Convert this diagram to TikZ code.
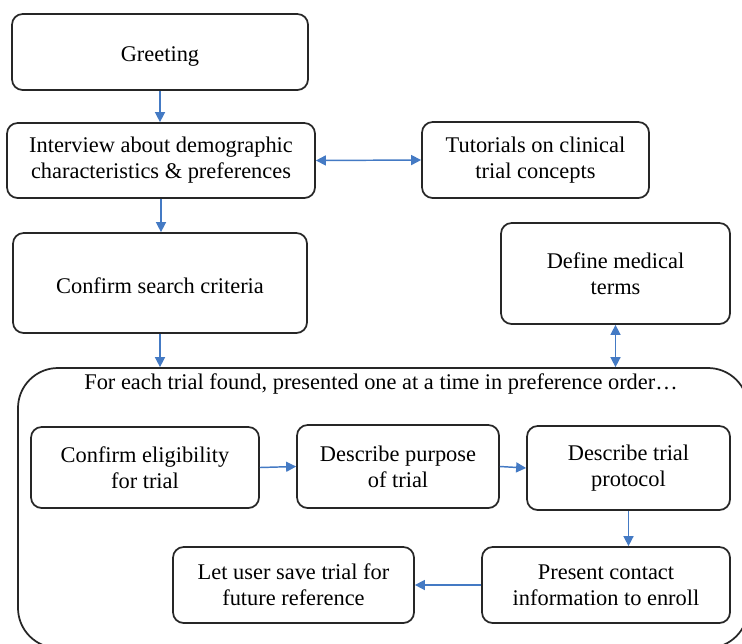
\documentclass[tikz,border=0pt]{standalone}
\usepackage{fontspec}
\setmainfont{Liberation Serif}
\usetikzlibrary{arrows.meta}
\definecolor{arrowblue}{RGB}{68,122,196}
\tikzset{
  box/.style={draw=black!85, line width=1.3pt, rounded corners=8pt, align=center,
    inner sep=2pt, font=\fontsize{16.8}{19.5}\selectfont},
  arr/.style={draw=arrowblue, line width=1.1pt, -{Triangle[length=7.5pt,width=7.5pt]}},
  darr/.style={draw=arrowblue, line width=1.1pt, {Triangle[length=7.5pt,width=7.5pt]}-{Triangle[length=7.5pt,width=7.5pt]}},
}
\begin{document}
\begin{tikzpicture}[x=0.75pt,y=-0.75pt]
\useasboundingbox (0,0) rectangle (742,643);
\fill[white] (0,0) rectangle (742,643);
\node[box, minimum width=730*0.75pt, minimum height=280*0.75pt, rounded corners=30pt] (big) at (383,508) {};
\node[font=\fontsize{16.8}{19.5}\selectfont] (title) at (381,384) {For each trial found, presented one at a time in preference order…};
\node[box, minimum width=296*0.75pt, minimum height=76*0.75pt, text height=18pt, text depth=3.5pt] (greet) at (160,52) {Greeting};
\node[box, minimum width=308*0.75pt, minimum height=75*0.75pt] (interview) at (161,160.5) {Interview about demographic\\characteristics \& preferences};
\node[box, minimum width=294*0.75pt, minimum height=100*0.75pt, text height=16pt, text depth=0pt] (search) at (160,283) {Confirm search criteria};
\node[box, minimum width=227*0.75pt, minimum height=76*0.75pt] (tut) at (535.5,160) {Tutorials on clinical\\trial concepts};
\node[box, minimum width=229*0.75pt, minimum height=101*0.75pt] (define) at (615.5,273.5) {Define medical\\terms};
\node[box, minimum width=228*0.75pt, minimum height=81*0.75pt] (elig) at (145,467.5) {Confirm eligibility\\for trial};
\node[box, minimum width=202*0.75pt, minimum height=83*0.75pt] (purpose) at (398,466.5) {Describe purpose\\of trial};
\node[box, minimum width=203*0.75pt, minimum height=84*0.75pt] (protocol) at (628.5,468) {Describe trial\\protocol};
\node[box, minimum width=248*0.75pt, minimum height=76*0.75pt] (contact) at (606,585) {Present contact\\information to enroll};
\node[box, minimum width=241*0.75pt, minimum height=76*0.75pt] (save) at (293.5,585) {Let user save trial for\\future reference};
\draw[arr] (greet.south) -- (greet.south |- interview.north);
\draw[darr] (interview.east) -- (tut.west);
\draw[arr] (interview.south) -- (interview.south |- search.north);
\draw[arr] (search.south) -- (search.south |- big.north);
\draw[darr] (define.south) -- (define.south |- big.north);
\draw[arr] (elig.east) -- (purpose.west);
\draw[arr] (purpose.east) -- (protocol.west);
\draw[arr] (protocol.south) -- (protocol.south |- contact.north);
\draw[arr] (contact.west) -- (save.east);
\end{tikzpicture}
\end{document}
